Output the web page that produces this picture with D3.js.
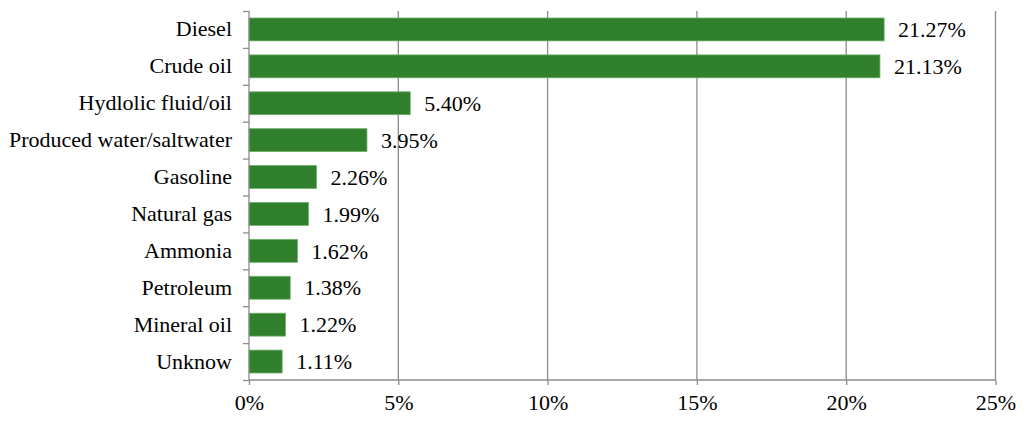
<!DOCTYPE html>
<html>
<head>
<meta charset="utf-8">
<script src="https://cdn.jsdelivr.net/npm/d3@7"></script>
<style>
	body { margin: 0; background: #fff; }
	svg { display: block; }
	text { font-family: "Liberation Serif", "Times New Roman", serif; fill: #000; }
</style>
</head>
<body>
<div id="chart"></div>
<script>
// categories, top to bottom
var categories = ['Diesel', 'Crude oil', 'Hydlolic fluid/oil', 'Produced water/saltwater', 'Gasoline',
	'Natural gas', 'Ammonia', 'Petroleum', 'Mineral oil', 'Unknow'];
var shares = [21.27, 21.13, 5.40, 3.95, 2.26, 1.99, 1.62, 1.38, 1.22, 1.11];
var xTicks = [0, 5, 10, 15, 20, 25];

var W = 1024, H = 421;
var margin = { top: 11, right: 28.5, bottom: 41, left: 249 },
	width = W - margin.left - margin.right,
	height = H - margin.top - margin.bottom;
var fontSize = '22px';

var data = categories.map(function (c, i) {
	return { name: c, value: shares[i] };
});

var x = d3.scaleLinear().domain([0, 25]).range([0, width]);
var y = d3.scaleBand()
	.domain(categories)
	.range([0, height])
	.paddingInner(0.38)
	.paddingOuter(0.19);
// band boundaries for the left axis ticks
var yEdge = d3.scaleLinear().domain([0, categories.length]).range([0, height]);

var svg = d3.select('#chart').append('svg')
	.attr('width', W)
	.attr('height', H)
	.append('g')
	.attr('transform', 'translate(' + margin.left + ',' + margin.top + ')');

var axisColor = '#8c8c8c';

// vertical gridlines
svg.selectAll('.grid')
	.data(xTicks.slice(1))
	.enter().append('line')
	.attr('class', 'grid')
	.attr('x1', function (d) { return x(d); })
	.attr('x2', function (d) { return x(d); })
	.attr('y1', 0)
	.attr('y2', height)
	.attr('stroke', axisColor)
	.attr('stroke-width', 1.3);

// bars
svg.selectAll('.bar')
	.data(data)
	.enter().append('rect')
	.attr('class', 'bar')
	.attr('x', x(0))
	.attr('y', function (d) { return y(d.name); })
	.attr('width', function (d) { return x(d.value) - x(0); })
	.attr('height', y.bandwidth())
	.attr('fill', '#2f7f2c')
	.attr('stroke', '#6cae68')
	.attr('stroke-width', 0.8);

// value labels
svg.selectAll('.val')
	.data(data)
	.enter().append('text')
	.attr('class', 'val')
	.attr('x', function (d) { return x(d.value) + 14; })
	.attr('y', function (d) { return y(d.name) + y.bandwidth() / 2; })
	.attr('dy', '0.35em')
	.style('font-size', fontSize)
	.text(function (d) { return d3.format('.2f')(d.value) + '%'; });

// x axis
var xAxis = svg.append('g')
	.attr('transform', 'translate(0,' + height + ')')
	.call(d3.axisBottom(x)
		.tickValues(xTicks)
		.tickSize(5)
		.tickPadding(9)
		.tickFormat(function (d) { return d + '%'; }));
xAxis.select('.domain').attr('stroke', axisColor).attr('stroke-width', 1.3).attr('d', 'M0,0H' + width);
xAxis.selectAll('.tick line').attr('stroke', axisColor).attr('stroke-width', 1.3);
xAxis.selectAll('.tick text').style('font-size', fontSize).attr('fill', '#000');

// y axis: line + boundary ticks
var yAxis = svg.append('g')
	.call(d3.axisLeft(yEdge)
		.tickValues(d3.range(categories.length + 1))
		.tickSize(6)
		.tickFormat(''));
yAxis.select('.domain').attr('stroke', axisColor).attr('stroke-width', 1.3).attr('d', 'M0,0V' + height);
yAxis.selectAll('.tick line').attr('stroke', axisColor).attr('stroke-width', 1.3);

// category labels
var yLabels = svg.append('g')
	.call(d3.axisLeft(y).tickSize(0).tickPadding(17));
yLabels.select('.domain').remove();
yLabels.selectAll('.tick text').style('font-size', fontSize).attr('fill', '#000');
</script>
</body>
</html>
